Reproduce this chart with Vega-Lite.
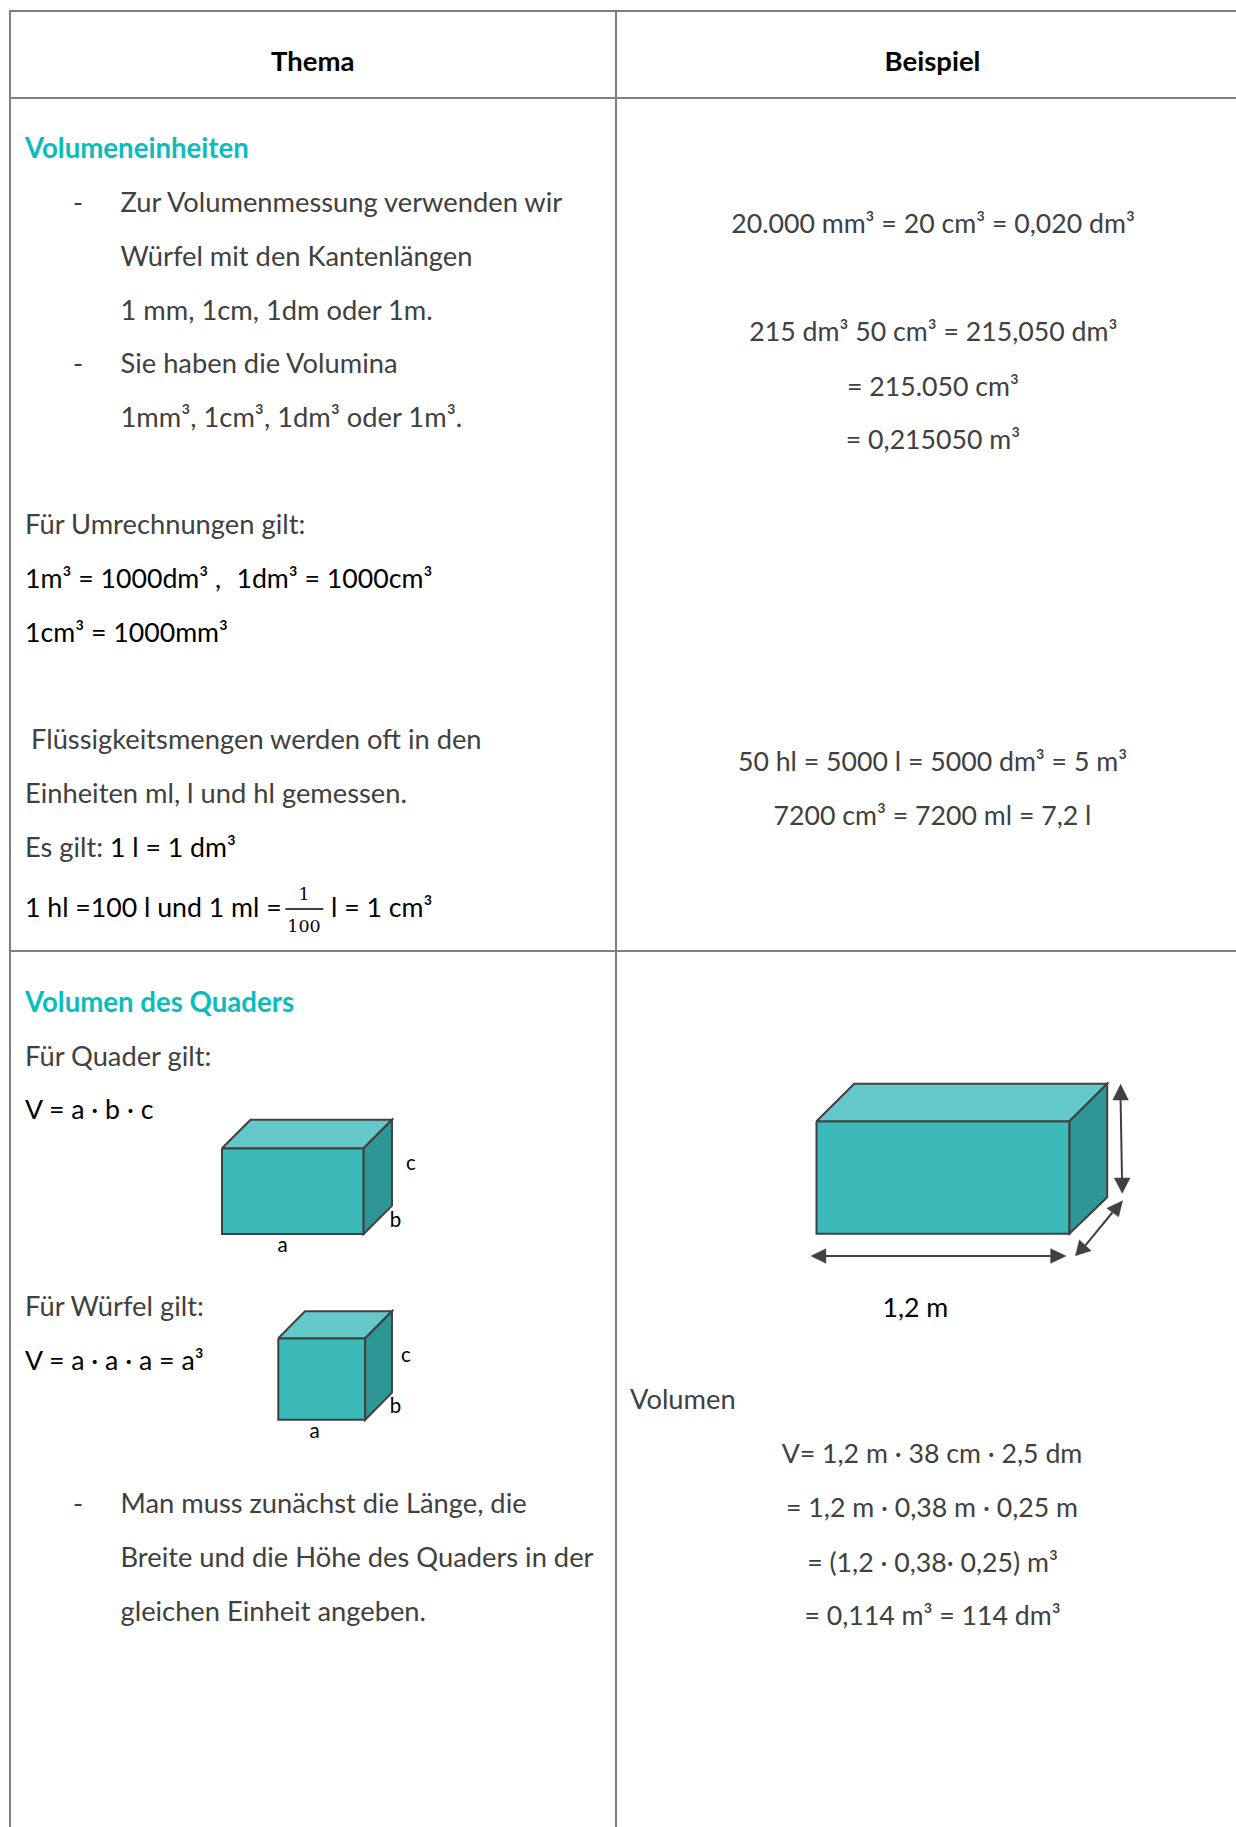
{"$schema":"https://vega.github.io/schema/vega-lite/v6.json","width":1236,"height":1827,"padding":0,"autosize":"none","background":"#ffffff","config":{"view":{"stroke":null}},
"datasets":{
"hl":[{"x":9,"x2":1236,"y":11},{"x":9,"x2":1236,"y":98},{"x":9,"x2":1236,"y":951}],
"vl":[{"x":10,"y":11,"y2":1827},{"x":616,"y":11,"y2":1827}],
"poly":[
{"s":"q1f","f":"front","i":0,"x":222,"y":1148.3},{"s":"q1f","f":"front","i":1,"x":363.6,"y":1148.3},{"s":"q1f","f":"front","i":2,"x":363.6,"y":1234},{"s":"q1f","f":"front","i":3,"x":222,"y":1234},{"s":"q1f","f":"front","i":4,"x":222,"y":1148.3},
{"s":"q1t","f":"top","i":0,"x":222,"y":1148.3},{"s":"q1t","f":"top","i":1,"x":250.6,"y":1119.7},{"s":"q1t","f":"top","i":2,"x":392,"y":1119.7},{"s":"q1t","f":"top","i":3,"x":363.6,"y":1148.3},{"s":"q1t","f":"top","i":4,"x":222,"y":1148.3},
{"s":"q1s","f":"side","i":0,"x":363.6,"y":1148.3},{"s":"q1s","f":"side","i":1,"x":392,"y":1119.7},{"s":"q1s","f":"side","i":2,"x":392,"y":1205.7},{"s":"q1s","f":"side","i":3,"x":363.6,"y":1234},{"s":"q1s","f":"side","i":4,"x":363.6,"y":1148.3},
{"s":"q2f","f":"front","i":0,"x":278.3,"y":1338.3},{"s":"q2f","f":"front","i":1,"x":365.2,"y":1338.3},{"s":"q2f","f":"front","i":2,"x":365.2,"y":1419.7},{"s":"q2f","f":"front","i":3,"x":278.3,"y":1419.7},{"s":"q2f","f":"front","i":4,"x":278.3,"y":1338.3},
{"s":"q2t","f":"top","i":0,"x":278.3,"y":1338.3},{"s":"q2t","f":"top","i":1,"x":305,"y":1311.3},{"s":"q2t","f":"top","i":2,"x":392,"y":1311.3},{"s":"q2t","f":"top","i":3,"x":365.2,"y":1338.3},{"s":"q2t","f":"top","i":4,"x":278.3,"y":1338.3},
{"s":"q2s","f":"side","i":0,"x":365.2,"y":1338.3},{"s":"q2s","f":"side","i":1,"x":392,"y":1311.3},{"s":"q2s","f":"side","i":2,"x":392,"y":1392.7},{"s":"q2s","f":"side","i":3,"x":365.2,"y":1419.7},{"s":"q2s","f":"side","i":4,"x":365.2,"y":1338.3},
{"s":"q3f","f":"front","i":0,"x":816.5,"y":1121.3},{"s":"q3f","f":"front","i":1,"x":1069.5,"y":1121.3},{"s":"q3f","f":"front","i":2,"x":1069.5,"y":1233.7},{"s":"q3f","f":"front","i":3,"x":816.5,"y":1233.7},{"s":"q3f","f":"front","i":4,"x":816.5,"y":1121.3},
{"s":"q3t","f":"top","i":0,"x":816.5,"y":1121.3},{"s":"q3t","f":"top","i":1,"x":854.2,"y":1083.7},{"s":"q3t","f":"top","i":2,"x":1107.2,"y":1083.7},{"s":"q3t","f":"top","i":3,"x":1069.5,"y":1121.3},{"s":"q3t","f":"top","i":4,"x":816.5,"y":1121.3},
{"s":"q3s","f":"side","i":0,"x":1069.5,"y":1121.3},{"s":"q3s","f":"side","i":1,"x":1107.2,"y":1083.7},{"s":"q3s","f":"side","i":2,"x":1107.2,"y":1197.3},{"s":"q3s","f":"side","i":3,"x":1069.5,"y":1233.7},{"s":"q3s","f":"side","i":4,"x":1069.5,"y":1121.3}
],
"shafts":[
{"s":"h","i":0,"x":825,"y":1256},{"s":"h","i":1,"x":1051,"y":1256},
{"s":"v","i":0,"x":1120.6,"y":1100},{"s":"v","i":1,"x":1122,"y":1178},
{"s":"d","i":0,"x":1112.4,"y":1212.5},{"s":"d","i":1,"x":1085.4,"y":1245.3},
{"s":"fr","i":0,"x":285.4,"y":909},{"s":"fr","i":1,"x":323.3,"y":909}
],
"heads":[
{"s":"h1","i":0,"x":811,"y":1256},{"s":"h1","i":1,"x":825.9,"y":1248.7},{"s":"h1","i":2,"x":825.9,"y":1263.3},{"s":"h1","i":3,"x":811,"y":1256},
{"s":"h2","i":0,"x":1066,"y":1256},{"s":"h2","i":1,"x":1050.7,"y":1248.7},{"s":"h2","i":2,"x":1050.7,"y":1263.3},{"s":"h2","i":3,"x":1066,"y":1256},
{"s":"v1","i":0,"x":1120.6,"y":1084.3},{"s":"v1","i":1,"x":1112.8,"y":1100},{"s":"v1","i":2,"x":1128.4,"y":1100},{"s":"v1","i":3,"x":1120.6,"y":1084.3},
{"s":"v2","i":0,"x":1122.2,"y":1193.3},{"s":"v2","i":1,"x":1114.3,"y":1178},{"s":"v2","i":2,"x":1130.1,"y":1178},{"s":"v2","i":3,"x":1122.2,"y":1193.3},
{"s":"d1","i":0,"x":1122.6,"y":1200.7},{"s":"d1","i":1,"x":1106.8,"y":1208.3},{"s":"d1","i":2,"x":1118.6,"y":1216.7},{"s":"d1","i":3,"x":1122.6,"y":1200.7},
{"s":"d2","i":0,"x":1075.4,"y":1255.7},{"s":"d2","i":1,"x":1091.1,"y":1250.7},{"s":"d2","i":2,"x":1079.4,"y":1240},{"s":"d2","i":3,"x":1075.4,"y":1255.7}
],
"greyL":[
{"t":"-","x":73,"y":211.7},{"t":"Zur Volumenmessung verwenden wir","x":120.5,"y":211.7},
{"t":"Würfel mit den Kantenlängen","x":120.5,"y":265.7},
{"t":"1 mm, 1cm, 1dm oder 1m.","x":120.5,"y":319.3},
{"t":"-","x":73,"y":372.7},{"t":"Sie haben die Volumina","x":120.5,"y":372.7},
{"t":"1mm³, 1cm³, 1dm³ oder 1m³.","x":120.5,"y":426.7},
{"t":"Für Umrechnungen gilt:","x":25,"y":533.3},
{"t":"Flüssigkeitsmengen werden oft in den","x":31,"y":748.3},
{"t":"Einheiten ml, l und hl gemessen.","x":25,"y":802.3},
{"t":"Es gilt:","x":25,"y":856.7},
{"t":"Für Quader gilt:","x":25,"y":1065},
{"t":"Für Würfel gilt:","x":25,"y":1315.7},
{"t":"-","x":73,"y":1512.3},{"t":"Man muss zunächst die Länge, die","x":120.5,"y":1512.3},
{"t":"Breite und die Höhe des Quaders in der","x":120.5,"y":1566.7},
{"t":"gleichen Einheit angeben.","x":120.5,"y":1620.7},
{"t":"Volumen","x":630,"y":1408.3}
],
"greyC":[
{"t":"20.000 mm³ = 20 cm³ = 0,020 dm³","x":933,"y":232.7},
{"t":"215 dm³ 50 cm³ = 215,050 dm³","x":933.3,"y":340.7},
{"t":"= 215.050 cm³","x":933,"y":395},
{"t":"= 0,215050 m³","x":933,"y":448.3},
{"t":"50 hl = 5000 l = 5000 dm³ = 5 m³","x":932.5,"y":770.5},
{"t":"7200 cm³ = 7200 ml = 7,2 l","x":932.5,"y":824.6},
{"t":"V= 1,2 m · 38 cm  · 2,5 dm","x":932,"y":1462.3},
{"t":"= 1,2 m · 0,38 m · 0,25 m","x":932,"y":1516},
{"t":"= (1,2 · 0,38· 0,25) m³","x":932.5,"y":1571},
{"t":"= 0,114 m³ = 114 dm³","x":932.5,"y":1624.3}
],
"blackL":[
{"t":"1m³ = 1000dm³ ,","x":25,"y":587.3},
{"t":"1dm³ = 1000cm³","x":236.4,"y":587.3},
{"t":"1cm³ = 1000mm³","x":25,"y":641.7},
{"t":"1 l = 1 dm³","x":110,"y":856.7},
{"t":"1 hl =100 l und 1 ml =","x":25,"y":916.7},
{"t":"l = 1 cm³","x":331,"y":916.7},
{"t":"V = a · b · c","x":25,"y":1118.7},
{"t":"V = a · a · a = a³","x":25,"y":1369},
{"t":"1,2 m","x":882.5,"y":1316.7}
],
"small":[
{"t":"c","x":411,"y":1170},{"t":"b","x":395.6,"y":1226.7},{"t":"a","x":282.6,"y":1251.7},
{"t":"c","x":406,"y":1361.7},{"t":"b","x":395.6,"y":1413},{"t":"a","x":314.6,"y":1438}
],
"frac":[{"t":"1","x":304,"y":900},{"t":"100","x":304,"y":931.7}],
"head":[{"t":"Thema","x":312.8,"y":70.7},{"t":"Beispiel","x":932.5,"y":70.7}],
"teal":[{"t":"Volumeneinheiten","x":25,"y":157.7},{"t":"Volumen des Quaders","x":25,"y":1011}]
},
"encoding":{
"x":{"field":"x","type":"quantitative","scale":{"domain":[0,1236],"nice":false,"zero":false},"axis":null},
"y":{"field":"y","type":"quantitative","scale":{"domain":[1827,0],"nice":false,"zero":false},"axis":null}
},
"layer":[
{"data":{"name":"hl"},"mark":{"type":"rule","color":"#7f7f7f","strokeWidth":2},"encoding":{"x2":{"field":"x2"}}},
{"data":{"name":"vl"},"mark":{"type":"rule","color":"#7f7f7f","strokeWidth":2},"encoding":{"y2":{"field":"y2"}}},
{"data":{"name":"poly"},"transform":[{"filter":"datum.f==='front'"}],"mark":{"type":"line","fill":"#3CB9B9","stroke":"#404040","strokeWidth":2},"encoding":{"detail":{"field":"s"},"order":{"field":"i"}}},
{"data":{"name":"poly"},"transform":[{"filter":"datum.f==='top'"}],"mark":{"type":"line","fill":"#64C8C8","stroke":"#404040","strokeWidth":2},"encoding":{"detail":{"field":"s"},"order":{"field":"i"}}},
{"data":{"name":"poly"},"transform":[{"filter":"datum.f==='side'"}],"mark":{"type":"line","fill":"#2E9796","stroke":"#404040","strokeWidth":2},"encoding":{"detail":{"field":"s"},"order":{"field":"i"}}},
{"data":{"name":"shafts"},"transform":[{"filter":"datum.s!=='fr'"}],"mark":{"type":"line","stroke":"#404040","strokeWidth":2},"encoding":{"detail":{"field":"s"},"order":{"field":"i"}}},
{"data":{"name":"shafts"},"transform":[{"filter":"datum.s==='fr'"}],"mark":{"type":"line","stroke":"#000000","strokeWidth":1.6},"encoding":{"detail":{"field":"s"},"order":{"field":"i"}}},
{"data":{"name":"heads"},"mark":{"type":"line","fill":"#404040","stroke":"#404040","strokeWidth":0.5},"encoding":{"detail":{"field":"s"},"order":{"field":"i"}}},
{"data":{"name":"greyL"},"mark":{"type":"text","align":"left","baseline":"alphabetic","font":"Lato","fontSize":27.3,"dy":0.7,"color":"#404040"},"encoding":{"text":{"field":"t"}}},
{"data":{"name":"greyC"},"mark":{"type":"text","align":"center","baseline":"alphabetic","font":"Lato","fontSize":26.7,"dy":0.7,"color":"#404040"},"encoding":{"text":{"field":"t"}}},
{"data":{"name":"blackL"},"mark":{"type":"text","align":"left","baseline":"alphabetic","font":"Lato","fontSize":26.7,"dy":0.7,"color":"#000000"},"encoding":{"text":{"field":"t"}}},
{"data":{"name":"small"},"mark":{"type":"text","align":"center","baseline":"alphabetic","font":"Lato","fontSize":20.5,"color":"#000000"},"encoding":{"text":{"field":"t"}}},
{"data":{"name":"frac"},"mark":{"type":"text","align":"center","baseline":"alphabetic","font":"DejaVu Serif","fontSize":17.5,"color":"#000000"},"encoding":{"text":{"field":"t"}}},
{"data":{"name":"head"},"mark":{"type":"text","align":"center","baseline":"alphabetic","font":"Lato","fontSize":27.5,"fontWeight":"bold","color":"#000000"},"encoding":{"text":{"field":"t"}}},
{"data":{"name":"teal"},"mark":{"type":"text","align":"left","baseline":"alphabetic","font":"Lato","fontSize":27.6,"fontWeight":"bold","dy":0.7,"color":"#0ABDBB"},"encoding":{"text":{"field":"t"}}}
]}
